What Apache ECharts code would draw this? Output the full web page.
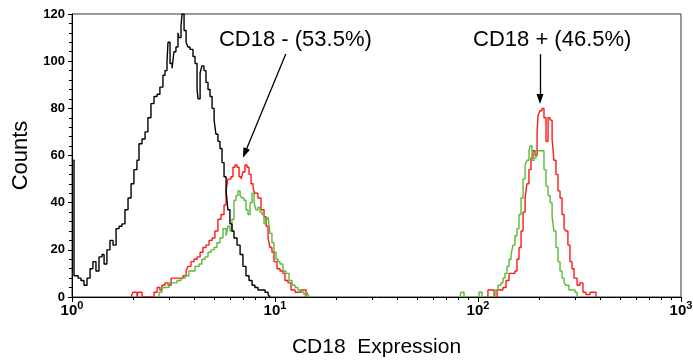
<!DOCTYPE html>
<html>
<head>
<meta charset="utf-8">
<script src="https://cdn.jsdelivr.net/npm/echarts@6/dist/echarts.min.js"></script>
<style>
  html, body { margin: 0; padding: 0; background: #fff; }
  #chart { width: 693px; height: 360px; }
</style>
</head>
<body>
<div id="chart"></div>
<script>
// histogram channels: [log10(expression), counts]
const blackHist = [[0,58],[0.010,9],[0.030,8],[0.044,7],[0.059,5],[0.074,8],[0.089,12],[0.103,15],[0.118,11],[0.133,17],[0.148,18],[0.158,14],[0.172,20],[0.187,24],[0.202,22],[0.217,29],[0.232,30],[0.246,31],[0.261,37],[0.276,42],[0.291,48],[0.305,54],[0.320,58],[0.330,65],[0.345,67],[0.360,70],[0.374,76],[0.389,82],[0.404,85],[0.419,86],[0.433,89],[0.448,94],[0.458,96],[0.468,100],[0.473,108],[0.483,99],[0.493,97],[0.502,104],[0.512,106],[0.522,112],[0.527,110],[0.537,115],[0.542,120],[0.552,113],[0.562,108],[0.571,106],[0.581,105],[0.596,102],[0.606,99],[0.616,88],[0.621,84],[0.631,95],[0.640,98],[0.650,96],[0.660,91],[0.670,88],[0.680,85],[0.690,80],[0.700,75],[0.709,69],[0.719,66],[0.729,63],[0.739,57],[0.749,51],[0.759,45],[0.768,37],[0.778,31],[0.788,28],[0.798,25],[0.813,22],[0.828,18],[0.842,13],[0.857,9],[0.872,7],[0.887,5],[0.901,4],[0.916,3],[0.936,3],[0.951,2],[0.966,1],[0.975,0]];

const redNeg = [[0.291,0],[0.300,2],[0.320,0],[0.325,2],[0.345,0],[0.404,2],[0.419,4],[0.433,3],[0.443,5],[0.458,6],[0.473,5],[0.488,8],[0.507,8],[0.527,8],[0.547,9],[0.562,11],[0.571,13],[0.586,15],[0.601,16],[0.616,17],[0.631,19],[0.645,21],[0.660,22],[0.675,24],[0.690,25],[0.704,28],[0.719,33],[0.734,35],[0.749,39],[0.759,45],[0.768,50],[0.783,51],[0.793,55],[0.803,56],[0.813,55],[0.823,51],[0.833,50],[0.842,53],[0.852,56],[0.862,55],[0.872,52],[0.882,48],[0.892,46],[0.901,44],[0.916,42],[0.931,37],[0.946,34],[0.956,30],[0.966,25],[0.975,21],[0.985,19],[0.995,15],[1.010,12],[1.025,11],[1.039,10],[1.049,7],[1.064,6],[1.079,3],[1.099,2],[1.113,2],[1.128,3],[1.143,3],[1.153,0]];

const redPos = [[2.039,0],[2.049,3],[2.069,3],[2.079,0],[2.094,3],[2.108,3],[2.123,4],[2.138,7],[2.153,10],[2.167,10],[2.182,11],[2.192,16],[2.202,21],[2.212,28],[2.222,36],[2.232,42],[2.241,48],[2.251,54],[2.261,59],[2.271,62],[2.281,60],[2.291,70],[2.296,77],[2.305,79],[2.315,80],[2.325,76],[2.335,66],[2.345,76],[2.355,75],[2.365,67],[2.374,58],[2.384,52],[2.394,45],[2.404,42],[2.414,35],[2.424,29],[2.433,28],[2.443,22],[2.453,15],[2.463,12],[2.473,8],[2.488,5],[2.502,6],[2.517,2],[2.532,1],[2.552,2],[2.567,2],[2.581,0]];

const greenNeg = [[0.419,0],[0.429,2],[0.443,4],[0.463,4],[0.478,6],[0.498,6],[0.517,7],[0.537,8],[0.557,9],[0.576,11],[0.591,11],[0.606,13],[0.626,14],[0.640,16],[0.655,17],[0.670,19],[0.685,20],[0.700,21],[0.714,23],[0.729,25],[0.744,29],[0.759,26],[0.768,30],[0.778,28],[0.788,33],[0.798,41],[0.808,43],[0.818,45],[0.828,43],[0.837,42],[0.847,41],[0.857,37],[0.867,35],[0.877,40],[0.887,44],[0.897,40],[0.906,37],[0.916,38],[0.926,36],[0.936,35],[0.946,31],[0.956,33],[0.966,34],[0.975,27],[0.985,23],[0.995,19],[1.005,16],[1.015,15],[1.025,14],[1.039,11],[1.054,10],[1.069,7],[1.084,5],[1.099,4],[1.113,3],[1.128,2],[1.143,1],[1.158,2],[1.167,0]];

const greenPos = [[1.911,0],[1.916,2],[1.931,0],[2.005,2],[2.020,0],[2.084,3],[2.099,5],[2.113,6],[2.123,8],[2.133,10],[2.143,13],[2.153,16],[2.163,18],[2.172,22],[2.182,26],[2.192,29],[2.202,35],[2.212,42],[2.222,50],[2.232,56],[2.241,58],[2.251,62],[2.256,64],[2.266,58],[2.276,59],[2.286,62],[2.305,62],[2.315,62],[2.325,54],[2.335,47],[2.345,43],[2.355,40],[2.365,34],[2.374,28],[2.384,21],[2.394,15],[2.404,11],[2.414,8],[2.424,6],[2.433,5],[2.448,3],[2.463,3],[2.478,2],[2.488,0]];

// axis ticks
const decades = [1, 10, 100];
const minorSteps = [2, 3, 4, 5, 6, 7, 8, 9];

// annotations (data space)
const labelNeg = { text: 'CD18 - (53.5%)', at: [12.6, 109] };
const labelPos = { text: 'CD18 + (46.5%)', at: [232, 109] };
const arrowNeg = [[11.3, 103], [7.1, 61]];
const arrowPos = [[202, 103], [202, 84]];

const FONT = 'Arial, "Liberation Sans", Helvetica, sans-serif';
const toPts = arr => arr.map(([d, c]) => [Math.pow(10, d), c]);
const minorVals = [];
decades.forEach(d => minorSteps.forEach(s => minorVals.push(d * s)));

const chart = echarts.init(document.getElementById('chart'));

const histSeries = (data, color, z) => ({
    type: 'line',
    step: 'end',
    data: toPts(data),
    showSymbol: false,
    symbol: 'none',
    silent: true,
    z: z,
    lineStyle: { color: color, width: 1.4 }
});

const black = histSeries(blackHist, '#000000', 4);
black.markLine = {
    silent: true,
    symbol: ['none', 'triangle'],
    symbolSize: [7, 10],
    label: { show: false },
    lineStyle: { color: '#000', width: 1.3, type: 'solid' },
    data: [
        [{ coord: arrowNeg[0] }, { coord: arrowNeg[1] }],
        [{ coord: arrowPos[0] }, { coord: arrowPos[1] }]
    ]
};
black.markPoint = {
    silent: true,
    symbol: 'circle',
    symbolSize: 1,
    itemStyle: { color: 'rgba(0,0,0,0)' },
    label: {
        show: true,
        position: 'inside',
        formatter: p => p.name,
        fontSize: 22,
        fontFamily: FONT,
        color: '#000'
    },
    data: [
        { name: labelNeg.text, coord: labelNeg.at },
        { name: labelPos.text, coord: labelPos.at }
    ]
};

const option = {
    animation: false,
    backgroundColor: '#fff',
    grid: {
        left: 72, right: 12, top: 14, bottom: 63,
        outerBoundsMode: 'none',
        containLabel: false,
        show: true, borderColor: '#333', borderWidth: 1
    },
    xAxis: [
        {
            type: 'log',
            logBase: 10,
            min: 1,
            max: 1000,
            position: 'bottom',
            z: 10,
            name: 'CD18  Expression',
            nameLocation: 'middle',
            nameGap: 40,
            nameTextStyle: { fontSize: 21, color: '#000', fontFamily: FONT },
            axisLine: { lineStyle: { color: '#000', width: 1 } },
            axisTick: { length: 5, lineStyle: { color: '#000' } },
            splitLine: { show: false },
            axisLabel: {
                margin: 3,
                formatter: v => `{b|10}{s|${Math.round(Math.log10(v))}}`,
                rich: {
                    b: { fontSize: 15, fontWeight: 'bold', color: '#000', fontFamily: FONT, lineHeight: 22 },
                    s: { fontSize: 11, fontWeight: 'bold', color: '#000', fontFamily: FONT, lineHeight: 10, verticalAlign: 'top' }
                }
            }
        },
        {
            type: 'log',
            logBase: 10,
            min: 1,
            max: 1000,
            position: 'bottom',
            z: 10,
            axisLine: { show: false },
            axisLabel: { show: false },
            splitLine: { show: false },
            axisTick: { show: true, length: 3, customValues: minorVals, lineStyle: { color: '#000' } }
        }
    ],
    yAxis: {
        type: 'value',
        min: 0,
        max: 120,
        interval: 20,
        z: 10,
        name: 'Counts',
        nameLocation: 'middle',
        nameGap: 38,
        nameTextStyle: { fontSize: 22, color: '#000', fontFamily: FONT },
        axisLine: { show: true, lineStyle: { color: '#000', width: 1 } },
        axisTick: { show: true, length: 4, lineStyle: { color: '#000' } },
        minorTick: { show: true, splitNumber: 5, length: 3, lineStyle: { color: '#000' } },
        splitLine: { show: false },
        axisLabel: { margin: 7, fontSize: 13, fontWeight: 'bold', color: '#000', fontFamily: FONT }
    },
    series: [
        histSeries(redNeg, '#ff1a1a', 2),
        histSeries(redPos, '#ff1a1a', 2),
        histSeries(greenNeg, '#5cb83a', 3),
        histSeries(greenPos, '#5cb83a', 3),
        black
    ]
};

chart.setOption(option);
</script>
</body>
</html>
